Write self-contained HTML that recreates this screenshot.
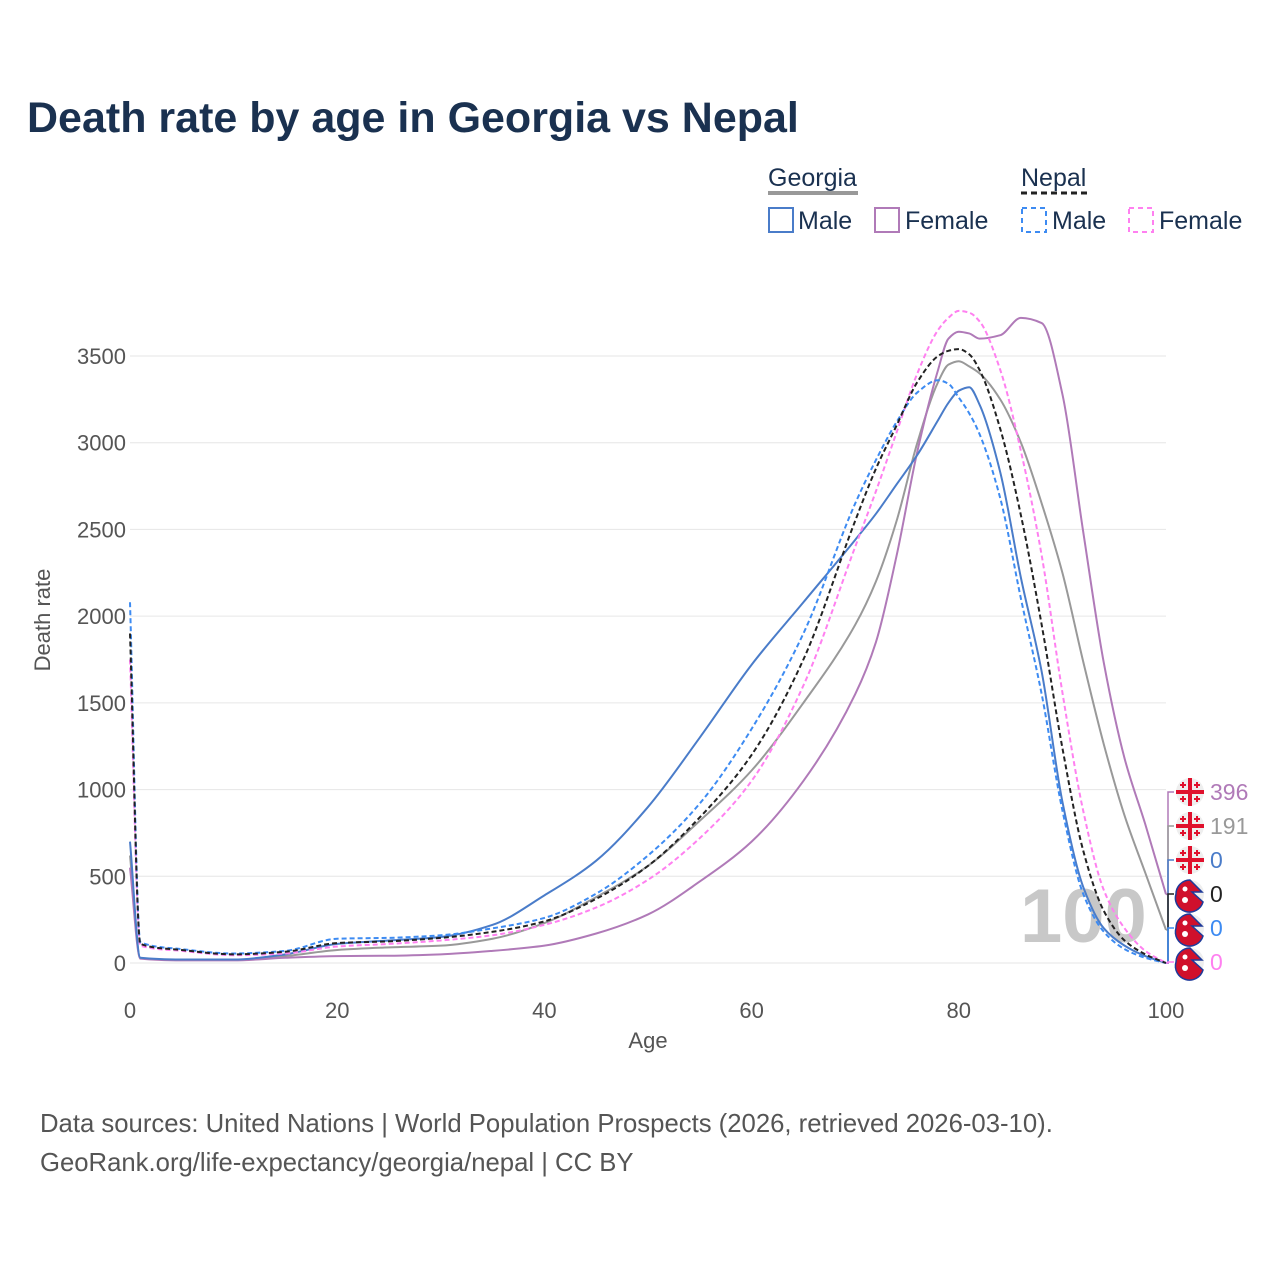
<!DOCTYPE html>
<html><head><meta charset="utf-8"><style>
body{margin:0;background:#fff;font-family:"Liberation Sans",sans-serif;}
#wrap{position:relative;width:1280px;height:1280px;overflow:hidden;}
</style></head><body>
<div id="wrap">
<svg id="chart" width="1280" height="1280" font-family="Liberation Sans, sans-serif">
<text x="27" y="132" font-size="43" font-weight="bold" fill="#1a3150">Death rate by age in Georgia vs Nepal</text>
<g font-size="25" fill="#1a3150">
<text x="768" y="186">Georgia</text>
<line x1="768" y1="193" x2="858" y2="193" stroke="#999" stroke-width="4"/>
<text x="1021" y="186">Nepal</text>
<line x1="1021" y1="193" x2="1088" y2="193" stroke="#222" stroke-width="3" stroke-dasharray="6,4"/>
<g><rect x="769" y="208" width="24" height="24" fill="none" stroke="#4a7cc9" stroke-width="2"/><text x="798" y="229">Male</text></g>
<g><rect x="875" y="208" width="24" height="24" fill="none" stroke="#b07ab8" stroke-width="2"/><text x="905" y="229">Female</text></g>
<g><rect x="1022" y="208" width="24" height="24" fill="none" stroke="#3d8bf2" stroke-width="2" stroke-dasharray="5,4"/><text x="1052" y="229">Male</text></g>
<g><rect x="1129" y="208" width="24" height="24" fill="none" stroke="#ff80f0" stroke-width="2" stroke-dasharray="5,4"/><text x="1159" y="229">Female</text></g>
</g>
<g id="grid"></g>
<text x="1020" y="942" font-size="76" font-weight="bold" fill="#c8c8c8">100</text>
<g id="series"></g>
<g id="endlabels"></g>
<text x="648" y="1048" font-size="22" fill="#555" text-anchor="middle">Age</text>
<text transform="translate(50,620) rotate(-90)" font-size="22" fill="#555" text-anchor="middle">Death rate</text>
<text x="40" y="1132" font-size="25.7" fill="#555">Data sources: United Nations | World Population Prospects (2026, retrieved 2026-03-10).</text>
<text x="40" y="1171" font-size="25.7" fill="#555">GeoRank.org/life-expectancy/georgia/nepal | CC BY</text>
</svg>
</div>
<script>
const ages=[0,1,5,10,15,20,25,30,35,40,45,50,55,60,65,70,72,74,76,78,79,80,81,82,84,86,88,90,92,94,96,98,100];
const georgiaMale=[700,30,20,20,50,110,130,150,220,390,590,900,1300,1720,2080,2440,2590,2760,2930,3130,3230,3300,3320,3220,2830,2220,1680,930,440,200,100,40,0];
const georgiaFemale=[550,25,15,15,30,40,42,50,70,100,170,280,470,700,1050,1550,1850,2350,2950,3420,3600,3640,3630,3600,3620,3720,3690,3280,2490,1730,1180,800,396];
const georgiaBoth=[620,28,18,18,40,75,90,100,140,230,380,560,820,1110,1500,1950,2200,2550,3000,3350,3450,3470,3440,3400,3250,3000,2650,2250,1740,1260,850,520,191];
const nepalMale=[2080,120,80,55,70,140,145,160,200,260,400,620,920,1350,1900,2650,2900,3120,3290,3360,3340,3260,3170,3050,2680,2100,1550,880,400,180,80,30,0];
const nepalBoth=[1900,110,75,50,65,115,125,145,180,240,370,560,840,1200,1750,2550,2850,3100,3350,3500,3530,3540,3510,3420,3080,2580,1950,1240,650,300,130,50,0];
const nepalFemale=[1750,100,70,45,55,95,110,130,160,220,320,480,720,1050,1600,2400,2720,3060,3400,3650,3720,3760,3750,3700,3420,2950,2350,1560,880,420,200,70,0];
const xTicks=[0,20,40,60,80,100];
const yTicks=[0,500,1000,1500,2000,2500,3000,3500];
const NS='http://www.w3.org/2000/svg';
const X0=130,X1=1166,Y0=963,YS=(963-356)/3500;
const xs=a=>X0+(X1-X0)*a/100, ys=v=>Y0-v*YS;
function mk(t,attrs,parent){const e=document.createElementNS(NS,t);for(const k in attrs)e.setAttribute(k,attrs[k]);parent.appendChild(e);return e;}
const grid=document.getElementById('grid');
yTicks.forEach(v=>{
  const l=mk('line',{x1:X0,x2:X1,y1:ys(v),y2:ys(v),stroke:'#e6e6e6','stroke-width':1},grid);
  
  
  const t=mk('text',{x:126,y:ys(v)+8,'font-size':22,fill:'#555','text-anchor':'end'},grid);
  t.textContent=v;
  
  
});
xTicks.forEach(a=>{
  const t=mk('text',{x:xs(a),y:1018,'font-size':22,fill:'#555','text-anchor':'middle'},grid);
  t.textContent=a;
  
  
});
function pathOf(vals){
  const px=ages.map(a=>xs(a)), py=vals.map(v=>ys(v));
  const n=px.length, d=[], m=new Array(n);
  for(let i=0;i<n-1;i++)d.push((py[i+1]-py[i])/(px[i+1]-px[i]));
  m[0]=d[0];m[n-1]=d[n-2];
  for(let i=1;i<n-1;i++){
    if(d[i-1]*d[i]<=0)m[i]=0;
    else{const h0=px[i]-px[i-1],h1=px[i+1]-px[i];const w1=2*h1+h0,w2=h1+2*h0;m[i]=(w1+w2)/(w1/d[i-1]+w2/d[i]);}
  }
  let s='M'+px[0]+','+py[0];
  for(let i=0;i<n-1;i++){
    const h=(px[i+1]-px[i])/3;
    s+='C'+(px[i]+h)+','+(py[i]+m[i]*h)+' '+(px[i+1]-h)+','+(py[i+1]-m[i+1]*h)+' '+px[i+1]+','+py[i+1];
  }
  return s;
}
const series=[
  ['georgia-both-line',georgiaBoth,'#999',null],
  ['georgia-female-line',georgiaFemale,'#b07ab8',null],
  ['georgia-male-line',georgiaMale,'#4a7cc9',null],
  ['nepal-female-line',nepalFemale,'#ff80f0','5,3'],
  ['nepal-male-line',nepalMale,'#3d8bf2','5,3'],
  ['nepal-both-line',nepalBoth,'#222','5,3']
];
const sg=document.getElementById('series');
series.forEach(s=>{
  const a={d:pathOf(s[1]),fill:'none',stroke:s[2],'stroke-width':2};
  if(s[3])a['stroke-dasharray']=s[3];
  const e=mk('path',a,sg);
  
  
});
const el=document.getElementById('endlabels');
const last=ages.length-1;
const ends=[
  ['georgia-female',georgiaFemale,'#b07ab8','ge'],
  ['georgia-both',georgiaBoth,'#999','ge'],
  ['georgia-male',georgiaMale,'#4a7cc9','ge'],
  ['nepal-both',nepalBoth,'#222','np'],
  ['nepal-male',nepalMale,'#3d8bf2','np'],
  ['nepal-female',nepalFemale,'#ff80f0','np']
];
ends.forEach((e,i)=>{
  const ly=792+i*34, vy=ys(e[1][last]);
  const g=mk('g',{},el);
  
  
  mk('path',{d:`M${X1},${vy}L${X1+2},${vy}L${X1+2},${ly}L${X1+8},${ly}`,fill:'none',stroke:e[2],'stroke-width':1.5},g);
  const cx=1190;
  mk('circle',{cx:cx,cy:ly,r:14,fill:'#eee'},g);
  if(e[3]==='ge'){
    mk('rect',{x:cx-14,y:ly-2,width:28,height:4,fill:'#e0102c'},g);
    mk('rect',{x:cx-2,y:ly-14,width:4,height:28,fill:'#e0102c'},g);
    [[-7,-7],[7,-7],[-7,7],[7,7]].forEach(o=>{mk('path',{d:`M${cx+o[0]-3},${ly+o[1]}h6M${cx+o[0]},${ly+o[1]-3}v6`,stroke:'#e0102c','stroke-width':2},g);});
  } else {
    mk('path',{d:`M${cx-14},${ly} A14,14 0 0 1 ${cx},${ly-14} L${cx+12},${ly-2} L${cx+2},${ly-2} L${cx+13},${ly+8} A14,14 0 0 1 ${cx-14},${ly} Z`,fill:'#d0102c',stroke:'#1e3a9a','stroke-width':1.5},g);
    mk('circle',{cx:cx-5,cy:ly-5,r:2.5,fill:'#fff'},g);
    mk('circle',{cx:cx-5,cy:ly+6,r:3,fill:'#fff'},g);
  }
  const t=mk('text',{x:1210,y:ly+8,'font-size':23,fill:e[2]},g);
  t.textContent=e[1][last];
});
</script>
</body></html>
